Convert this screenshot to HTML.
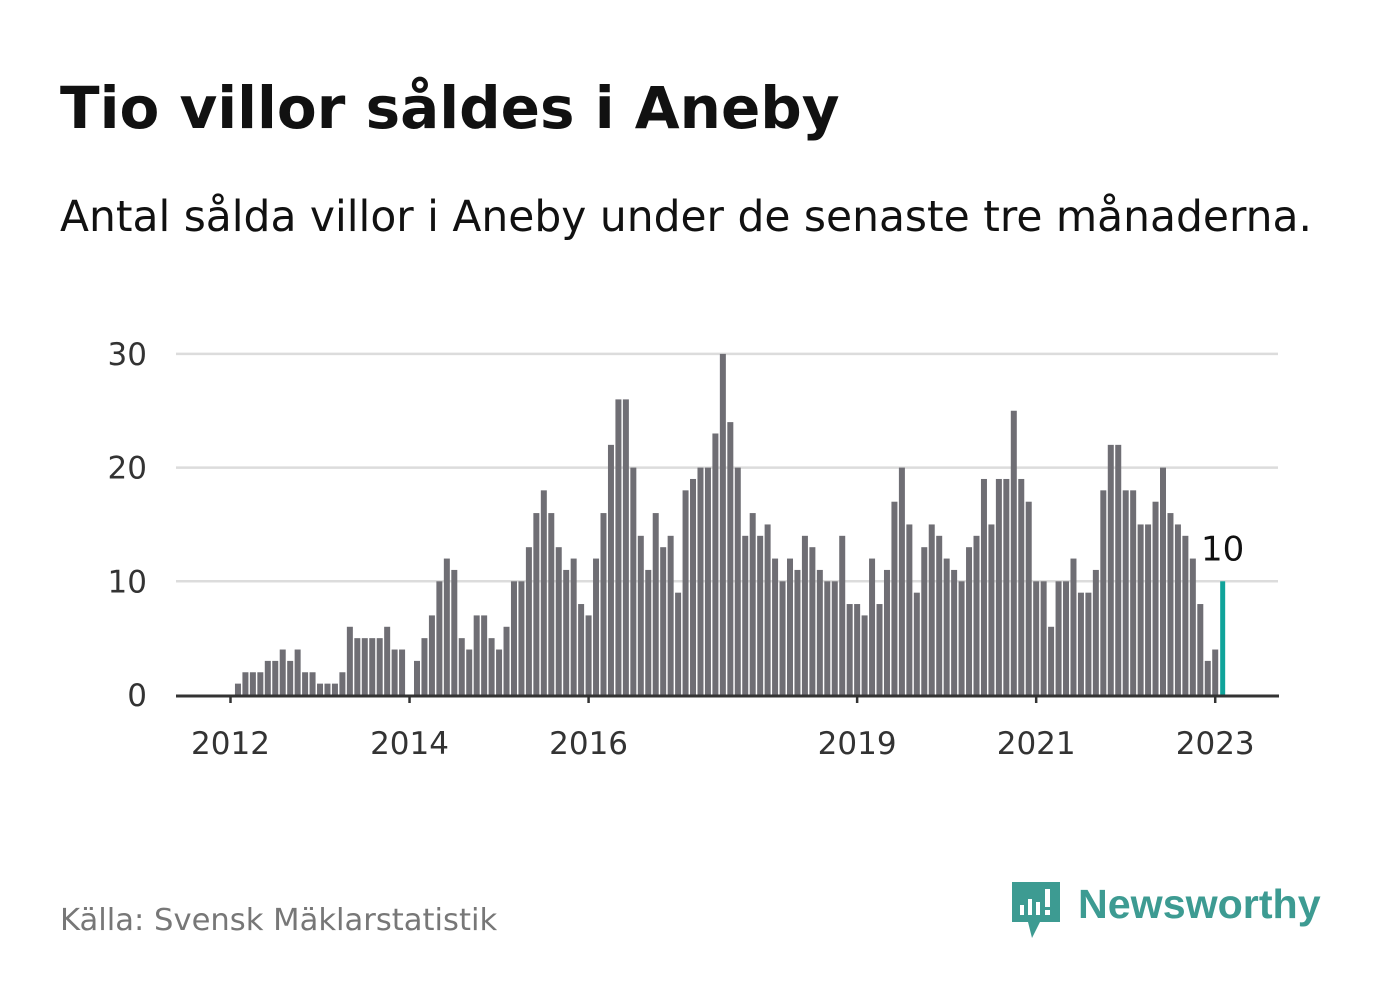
<!DOCTYPE html>
<html><head><meta charset="utf-8">
<style>
body{margin:0;background:#fff;width:1382px;height:999px;overflow:hidden;font-family:"Liberation Sans","DejaVu Sans",sans-serif}
</style></head>
<body>
<svg id="chart" width="1382" height="999" viewBox="0 0 1382 999" xmlns="http://www.w3.org/2000/svg">
<text x="60" y="128" font-size="58" font-weight="bold" fill="#111" font-family="DejaVu Sans, sans-serif">Tio villor såldes i Aneby</text>
<text x="60" y="231" font-size="42.4" fill="#111" font-family="DejaVu Sans, sans-serif">Antal sålda villor i Aneby under de senaste tre månaderna.</text>
<g id="grid"></g><g id="bars"></g><g id="axes"></g>
<text x="60" y="930" font-size="30.6" fill="#777" font-family="DejaVu Sans, sans-serif">Källa: Svensk Mäklarstatistik</text>
<g>
<path d="M1012 882 h48 v40 h-20 l-8 16 l-4 -16 h-16 z" fill="#3d9b92"/>
<rect x="1020" y="905" width="4" height="10" fill="#fff"/><rect x="1028" y="899" width="4" height="16" fill="#fff"/><rect x="1036" y="902" width="4" height="13" fill="#fff"/><rect x="1045" y="889" width="5" height="18" fill="#fff"/><rect x="1045" y="910" width="5" height="5" fill="#fff"/>
<text x="1078" y="918" font-size="41.2" font-weight="bold" fill="#3d9b92" font-family="Liberation Sans, sans-serif">Newsworthy</text>
</g>
</svg>
<script>
const months = 134; // Jan 2012 .. Feb 2023
const values = [0,1,2,2,2,3,3,4,3,4,2,2,
1,1,1,2,6,5,5,5,5,6,4,4,
0,3,5,7,10,12,11,5,4,7,7,5,
4,6,10,10,13,16,18,16,13,11,12,8,
7,12,16,22,26,26,20,14,11,16,13,14,
9,18,19,20,20,23,30,24,20,14,16,14,
15,12,10,12,11,14,13,11,10,10,14,8,
8,7,12,8,11,17,20,15,9,13,15,14,
12,11,10,13,14,19,15,19,19,25,19,17,
10,10,6,10,10,12,9,9,11,18,22,22,
18,18,15,15,17,20,16,15,14,12,8,3,
4,10];
const yTicks = [0,10,20,30];
const xTickLabels = ["2012","2014","2016","2019","2021","2023"];
const xTickIndex = [0,24,48,84,108,132];
const NS="http://www.w3.org/2000/svg";
const x0=230.5, step=7.46, yBase=695, perUnit=11.37;
const xs=i=>x0+i*step;
const ys=v=>yBase-v*perUnit;
function mk(tag,attrs,parent){const e=document.createElementNS(NS,tag);for(const k in attrs)e.setAttribute(k,attrs[k]);parent.appendChild(e);return e;}
const grid=document.getElementById('grid'),bars=document.getElementById('bars'),axes=document.getElementById('axes');
yTicks.forEach(t=>{
  if(t>0){const l=mk('line',{x1:176,x2:1278,y1:ys(t),y2:ys(t),stroke:'#dcdcdc','stroke-width':2.5},grid);
  
  }
  const tx=mk('text',{x:147,y:ys(t)+11,'font-size':31,fill:'#333','text-anchor':'end','font-family':'DejaVu Sans, sans-serif'},axes);
  tx.textContent=t;
  
  
});
values.forEach((v,i)=>{
  const last=i===values.length-1;
  const w=last?5:6;
  const r=mk('rect',{x:xs(i)-w/2,y:ys(v),width:w,height:v*perUnit,fill:last?'#10a39a':'#6f6e74'},bars);
  
  
});
const base=mk('line',{x1:176,x2:1279,y1:yBase+1,y2:yBase+1,stroke:'#333','stroke-width':3},axes);


xTickIndex.forEach((idx,k)=>{
  const tk=mk('line',{x1:xs(idx),x2:xs(idx),y1:yBase,y2:yBase+8,stroke:'#333','stroke-width':2.5},axes);
  
  
  const tx=mk('text',{x:xs(idx),y:754,'font-size':31,fill:'#333','text-anchor':'middle','font-family':'DejaVu Sans, sans-serif'},axes);
  tx.textContent=xTickLabels[k];
  
  
});
const li=values.length-1;
const lab=mk('text',{x:xs(li),y:ys(values[li])-21,'font-size':34,fill:'#111','text-anchor':'middle','font-family':'DejaVu Sans, sans-serif'},axes);
lab.textContent=values[li];


</script>
</body></html>
